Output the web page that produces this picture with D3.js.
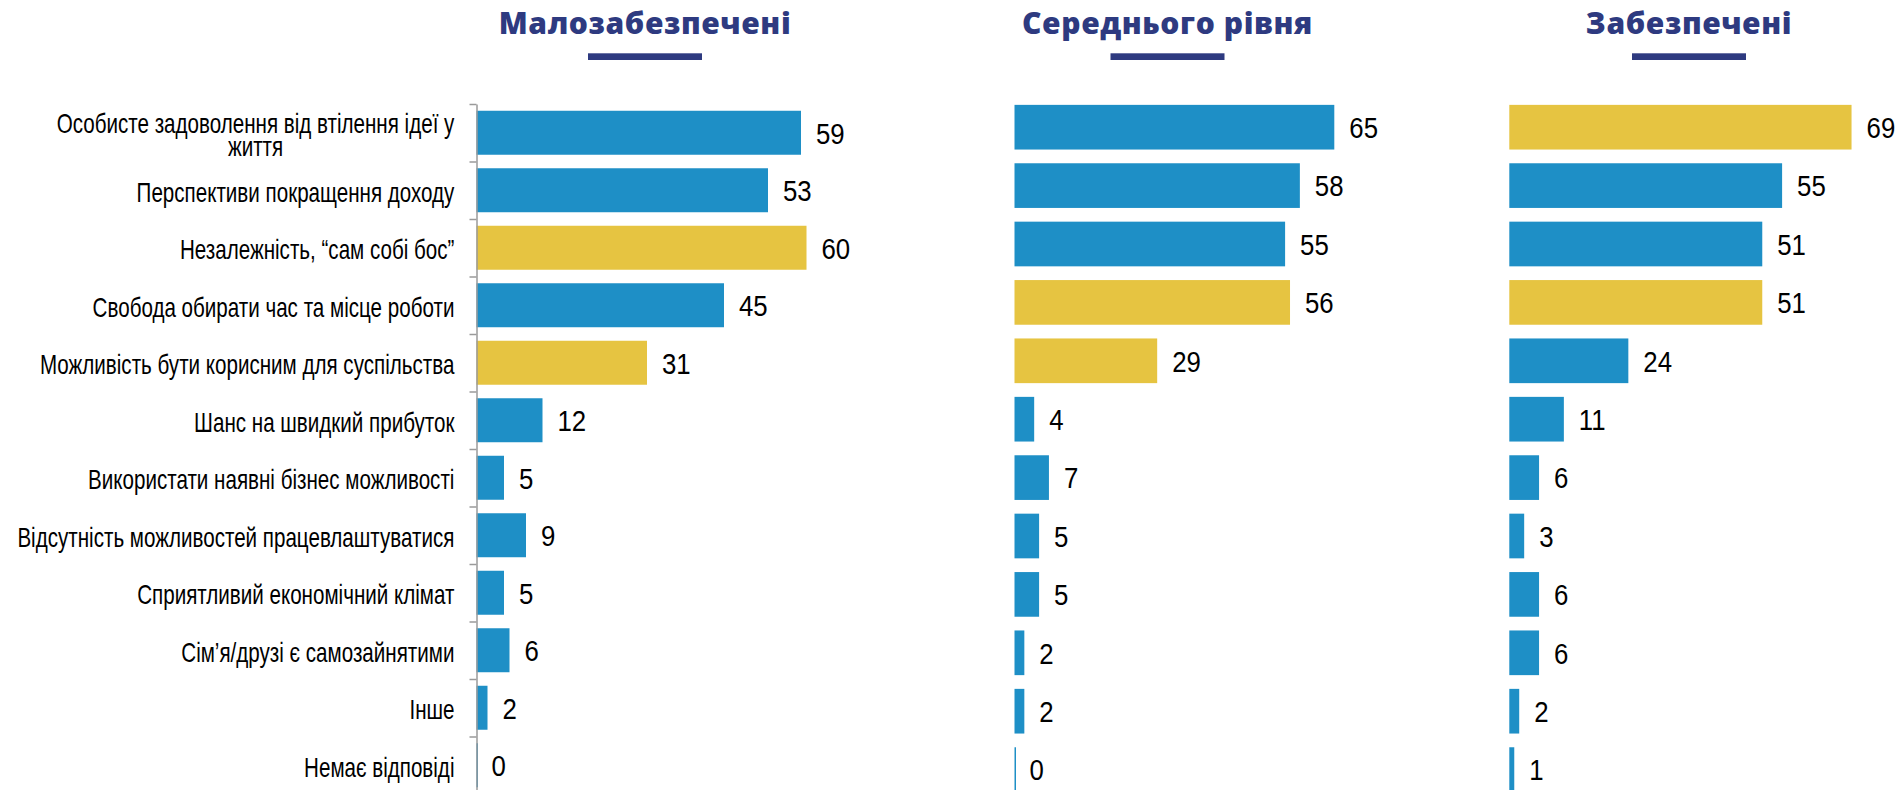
<!DOCTYPE html>
<html>
<head>
<meta charset="utf-8">
<script src="https://cdn.jsdelivr.net/npm/d3@7"></script>
<style>
  body { margin: 0; background: #fff; }
</style>
</head>
<body>
<script>
// --- data ---
var categories = [
  'Особисте задоволення від втілення ідеї у\nжиття',
  'Перспективи покращення доходу',
  'Незалежність, “сам собі бос”',
  'Свобода обирати час та місце роботи',
  'Можливість бути корисним для суспільства',
  'Шанс на швидкий прибуток',
  'Використати наявні бізнес можливості',
  'Відсутність можливостей працевлаштуватися',
  'Сприятливий економічний клімат',
  'Сім’я/друзі є самозайнятими',
  'Інше',
  'Немає відповіді'
];
var groupTitles = ['Малозабезпечені', 'Середнього рівня', 'Забезпечені'];
var poorValues   = [59, 53, 60, 45, 31, 12, 5, 9, 5, 6, 2, 0];
var middleValues = [65, 58, 55, 56, 29, 4, 7, 5, 5, 2, 2, 0];
var richValues   = [69, 55, 51, 51, 24, 11, 6, 3, 6, 6, 2, 1];
// rows drawn in yellow in each group
var poorHighlight   = [2, 4];
var middleHighlight = [3, 4];
var richHighlight   = [0, 3];

var width = 1903, height = 790;
var blue = '#1e8fc6', yellow = '#e6c441', navy = '#2e3a80';
var bodyFont = '"Liberation Sans", Arial, sans-serif';

var svg = d3.select('body').append('svg')
  .attr('width', width).attr('height', height);
svg.append('rect').attr('width', width).attr('height', height).attr('fill', '#fff');

// squeeze normal sans to look like Arial Narrow: fit a sample line to its width in the picture
function squeezeFor(sample, size, target) {
  var t = svg.append('text').style('font-family', bodyFont).style('font-size', size + 'px').text(sample);
  var w = t.node().getComputedTextLength();
  t.remove();
  return target / w;
}
var labelSize = 27, valueSize = 30;
var labelSqueeze = squeezeFor('Перспективи покращення доходу', labelSize, 318);
var valueSqueeze = 0.86;

var panels = [
  {title: groupTitles[0], values: poorValues,   hi: poorHighlight,   x0: 476.5,  unit: 5.5,  yTop: 104, step: 57.5, cx: 645,    axis: true},
  {title: groupTitles[1], values: middleValues, hi: middleHighlight, x0: 1014.5, unit: 4.92, yTop: 98,  step: 58.4, cx: 1167.5, axis: false},
  {title: groupTitles[2], values: richValues,   hi: richHighlight,   x0: 1509.3, unit: 4.96, yTop: 98,  step: 58.4, cx: 1689,   axis: false}
];

panels.forEach(function(p) {
  var g = svg.append('g');
  var x = d3.scaleLinear().domain([0, 100]).range([p.x0, p.x0 + p.unit * 100]);
  var y = d3.scaleBand().domain(d3.range(categories.length))
    .range([p.yTop, p.yTop + p.step * categories.length])
    .paddingInner(0.235).paddingOuter(0.1175);

  // title + underline
  g.append('text')
    .attr('x', p.cx).attr('y', 33.5)
    .attr('text-anchor', 'middle')
    .style('font-family', '"Open Sans", "Noto Sans", sans-serif')
    .style('font-weight', 800)
    .style('font-size', '30px')
    .style('letter-spacing', '0.6px')
    .attr('fill', navy)
    .text(p.title);
  g.append('rect')
    .attr('x', p.cx - 57).attr('y', 53.3)
    .attr('width', 114).attr('height', 6.7)
    .attr('fill', navy);

  // bars
  g.selectAll('rect.bar').data(p.values).enter().append('rect')
    .attr('class', 'bar')
    .attr('x', x(0))
    .attr('y', function(d, i) { return y(i); })
    .attr('width', function(d) { return Math.max(x(d) - x(0), 1.5); })
    .attr('height', y.bandwidth())
    .attr('fill', function(d, i) { return p.hi.indexOf(i) >= 0 ? yellow : blue; });

  // value labels
  g.selectAll('text.val').data(p.values).enter().append('text')
    .attr('class', 'val')
    .attr('transform', function(d, i) {
      return 'translate(' + (x(d) + 15) + ',' + (y(i) + y.bandwidth() / 2 + 10.8) + ') scale(' + valueSqueeze + ',1)';
    })
    .style('font-family', bodyFont)
    .style('font-size', valueSize + 'px')
    .attr('fill', '#000')
    .text(function(d) { return d; });

  if (p.axis) {
    var edge = d3.scaleLinear().domain([0, categories.length])
      .range([p.yTop, p.yTop + p.step * categories.length]);
    var ax = g.append('g')
      .attr('transform', 'translate(' + x(0) + ',0)')
      .call(d3.axisLeft(edge).tickValues(d3.range(categories.length + 1))
        .tickSize(7).tickSizeOuter(0).tickFormat(''));
    ax.selectAll('path, line').attr('stroke', '#9a9a9a').attr('stroke-width', 1.5);

    // category labels, right edge of the widest line near the axis, lines centred
    categories.forEach(function(c, i) {
      var lines = c.split('\n');
      var cy = y(i) + y.bandwidth() / 2;
      var first = cy + 11.4 - (lines.length - 1) * 11.5;
      var t = g.append('text')
        .attr('text-anchor', 'middle')
        .style('font-family', bodyFont)
        .style('font-size', labelSize + 'px')
        .attr('fill', '#000');
      t.selectAll('tspan').data(lines).enter().append('tspan')
        .attr('x', 0)
        .attr('y', function(l, k) { return k * 23; })
        .text(function(l) { return l; });
      var w = d3.max(t.selectAll('tspan').nodes(), function(n) { return n.getComputedTextLength(); }) * labelSqueeze;
      var mid = x(0) - 22 - w / 2;
      t.attr('transform', 'translate(' + mid + ',' + first + ') scale(' + labelSqueeze + ',1)');
    });
  }
});
</script>
</body>
</html>
